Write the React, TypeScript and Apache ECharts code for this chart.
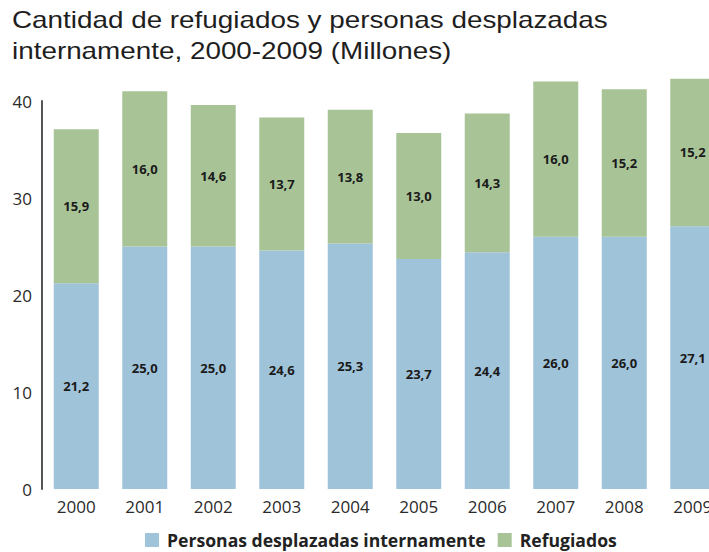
import React, { useEffect, useRef } from "react";
import * as echarts from "echarts";

const years = ["2000", "2001", "2002", "2003", "2004", "2005", "2006", "2007", "2008", "2009"];
const desplazados = [21.2, 25.0, 25.0, 24.6, 25.3, 23.7, 24.4, 26.0, 26.0, 27.1];
const refugiados = [15.9, 16.0, 14.6, 13.7, 13.8, 13.0, 14.3, 16.0, 15.2, 15.2];
const yTicks = [0, 10, 20, 30, 40];
const titleLines = [
  "Cantidad de refugiados y personas desplazadas",
  "internamente, 2000-2009 (Millones)",
];

const BLUE = "#9fc3d9";
const GREEN = "#a8c497";
const FONT = "'Open Sans', sans-serif";

const fmt = (p: any) => Number(p.value).toFixed(1).replace(".", ",");

export default function App() {
  const ref = useRef<HTMLDivElement>(null);
  useEffect(() => {
    if (!ref.current) return;
    const chart = echarts.init(ref.current, undefined, { renderer: "svg" });
    const labelStyle = {
      show: true,
      position: "inside" as const,
      formatter: fmt,
      color: "#1a1a1a",
      fontFamily: FONT,
      fontWeight: "bold" as const,
      fontSize: 13,
    };
    chart.setOption({
      animation: false,
      backgroundColor: "#ffffff",
      graphic: titleLines.map((t, i) => ({
        type: "text",
        x: 12,
        y: 20 + i * 31,
        scaleX: 1.16,
        style: {
          text: t,
          x: 0,
          y: 0,
          fontFamily: "'Liberation Sans', Arial, sans-serif",
          fontSize: 24,
          fill: "#1e1e1e",
          align: "left",
          verticalAlign: "middle",
        },
      })),
      legend: {
        left: 145,
        top: 531,
        padding: 0,
        icon: "rect",
        itemWidth: 14,
        itemHeight: 14,
        itemGap: 12,
        textStyle: {
          fontFamily: FONT,
          fontSize: 17.6,
          lineHeight: 16,
          fontWeight: "bold",
          color: "#222222",
          padding: [0, 0, 0, 3],
        },
        data: ["Personas desplazadas internamente", "Refugiados"],
      },
      grid: { left: 42, top: 101, width: 685, height: 388, containLabel: false },
      xAxis: {
        type: "category",
        data: years,
        axisLine: { show: false },
        axisTick: { show: false },
        axisLabel: { margin: 9, color: "#2a2a2a", fontFamily: FONT, fontSize: 17 },
      },
      yAxis: {
        type: "value",
        min: yTicks[0],
        max: yTicks[yTicks.length - 1],
        interval: 10,
        axisLine: { show: true, lineStyle: { color: "#555555", width: 2 } },
        axisTick: { show: false },
        splitLine: { show: false },
        axisLabel: { margin: 10, color: "#2a2a2a", fontFamily: FONT, fontSize: 17 },
      },
      series: [
        {
          name: "Personas desplazadas internamente",
          type: "bar",
          stack: "total",
          barWidth: 45,
          clip: false,
          data: desplazados,
          itemStyle: { color: BLUE },
          label: labelStyle,
        },
        {
          name: "Refugiados",
          type: "bar",
          stack: "total",
          barWidth: 45,
          clip: false,
          data: refugiados,
          itemStyle: { color: GREEN },
          label: labelStyle,
        },
      ],
    });
    return () => chart.dispose();
  }, []);
  return (
    <div
      style={{
        position: "absolute",
        left: 0,
        top: 0,
        width: 709,
        height: 552,
        overflow: "hidden",
        background: "#ffffff",
      }}
    >
      <div ref={ref} style={{ width: 740, height: 552 }} />
    </div>
  );
}
